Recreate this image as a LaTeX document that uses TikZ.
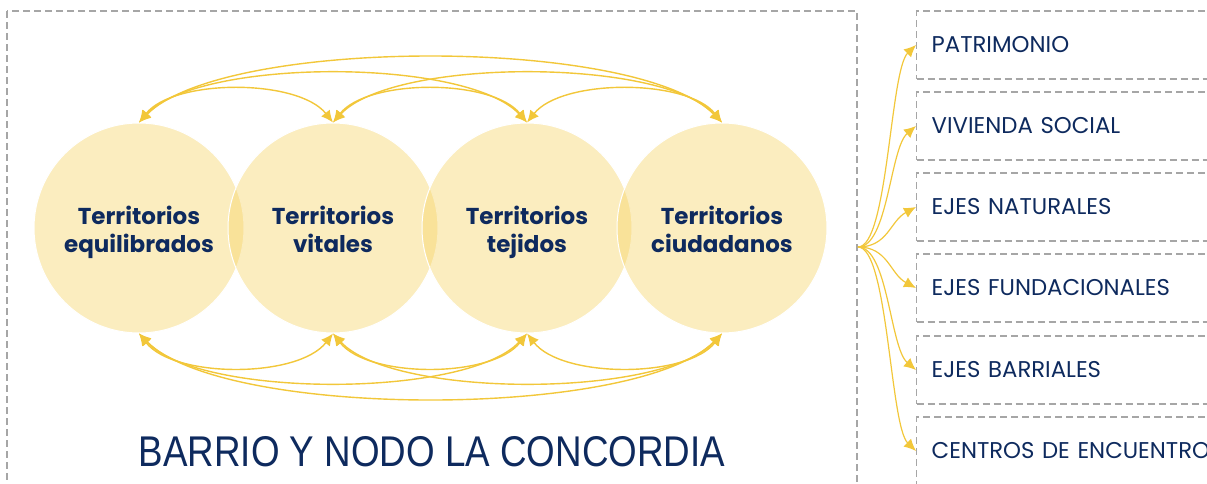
\documentclass[tikz,border=0pt]{standalone}
\usepackage{fontspec}
\setmainfont{Poppins}
\newfontfamily\titlefont[FakeStretch=0.855]{Liberation Sans}
\usetikzlibrary{arrows.meta}
\definecolor{navy}{HTML}{0E2A5E}
\definecolor{gold}{HTML}{F2C73A}
\definecolor{circfill}{RGB}{245,210,95}
\definecolor{dashgray}{HTML}{A6A6A6}
\newcommand{\tope}{\rule{0pt}{14.5pt}}

\begin{document}
\begin{tikzpicture}[x=0.5pt, y=-0.5pt, >={Latex[length=6pt,width=5.5pt]},
  terr/.style={circle, minimum size=105pt, inner sep=0pt, fill=circfill, fill opacity=0.4,
    text opacity=1, draw=white, line width=0.5pt, align=center, text=navy,
    font=\bfseries\fontsize{11.5}{14}\selectfont},
  link/.style={<->, draw=gold, line width=0.7pt},
  fanlink/.style={->, draw=gold, line width=0.6pt},
  tema/.style={draw=dashgray, line width=0.7pt, dash pattern=on 3.5pt off 2pt, anchor=west,
    minimum height=34pt, text width=150pt, inner xsep=7.5pt, align=left, text=navy,
    font=\fontsize{11.4}{14}\selectfont}]
\useasboundingbox (0,0) rectangle (1207,483);
\clip (0,0) rectangle (1207,483);
\draw[draw=dashgray, line width=0.7pt, dash pattern=on 3.5pt off 2pt] (7,11) rectangle (857,520);
\node[terr] at (139,228) (t1) {\tope Territorios\\equilibrados\strut};
\node[terr] at (333,228) (t2) {\tope Territorios\\vitales\strut};
\node[terr] at (527,228) (t3) {\tope Territorios\\tejidos\strut};
\node[terr] at (722,228) (t4) {\tope Territorios\\ciudadanos\strut};
\node[text=navy, font=\titlefont\fontsize{21.5}{24}\selectfont] at (432,452) (titulo)
  {BARRIO Y NODO LA CONCORDIA};
% arcos entre territorios
\foreach \a/\b/\dx/\h in {1/2/35/44, 2/3/35/44, 3/4/35/44, 1/3/60/65, 2/4/60/65, 1/4/85/86}
  \draw[link] (t\a.north) .. controls +(\dx,-\h) and +(-\dx,-\h) .. (t\b.north);
\foreach \a/\b/\dx/\h in {1/2/35/45, 2/3/35/45, 3/4/35/45, 1/3/60/65, 2/4/60/65, 1/4/85/86}
  \draw[link] (t\a.south) .. controls +(\dx,\h) and +(-\dx,\h) .. (t\b.south);
% temas
\node[tema] at (916,45)  (b1) {PATRIMONIO};
\node[tema] at (916,126) (b2) {VIVIENDA SOCIAL};
\node[tema] at (916,207) (b3) {EJES NATURALES};
\node[tema] at (916,288) (b4) {EJES FUNDACIONALES};
\node[tema] at (916,370) (b5) {EJES BARRIALES};
\node[tema] at (916,451) (b6) {CENTROS DE ENCUENTRO};
\coordinate (fan) at (858,247);
\foreach \i/\k in {1/25, 2/22, 3/14, 4/-14, 5/-22, 6/-25}
  \draw[fanlink] (fan) .. controls +(30,0) and +(-26,\k) .. (b\i.west);
\end{tikzpicture}
\end{document}
